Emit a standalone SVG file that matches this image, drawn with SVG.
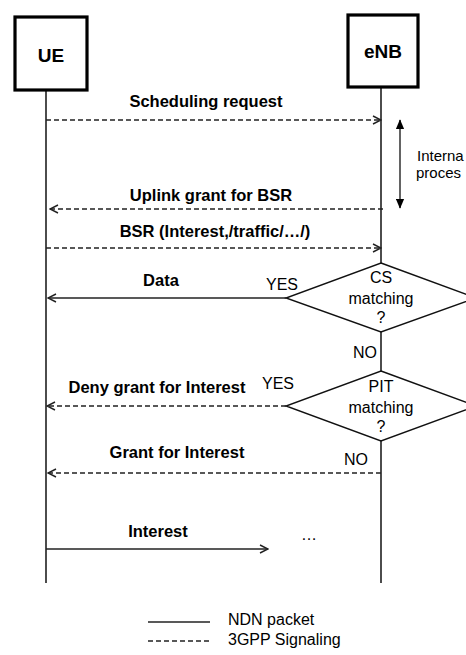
<svg xmlns="http://www.w3.org/2000/svg" width="466" height="655" viewBox="0 0 466 655">
<style>
.bg{fill:#fff}
.box{fill:#fff;stroke:#000;stroke-width:3.2}
.life{stroke:#000;stroke-width:1.4;fill:none}
.sol{stroke:#222;stroke-width:1.4;fill:none}
.dash{stroke:#222;stroke-width:1.3;fill:none;stroke-dasharray:5 3}
.dia{fill:#fff;stroke:#111;stroke-width:1.4}
.h{font-family:"Liberation Sans",Arial,sans-serif;font-weight:bold;font-size:19px;fill:#000;text-anchor:middle}
.b{font-family:"Liberation Sans",Arial,sans-serif;font-weight:bold;font-size:16.5px;fill:#000;text-anchor:middle}
.n{font-family:"Liberation Sans",Arial,sans-serif;font-size:16px;fill:#000}
.s{font-family:"Liberation Sans",Arial,sans-serif;font-size:15px;fill:#000}
.c{text-anchor:middle}
</style>
<defs>
<marker id="open" viewBox="0 0 10 10" refX="9" refY="5" markerWidth="10" markerHeight="10" markerUnits="userSpaceOnUse" orient="auto-start-reverse">
<path d="M1,1 L9,5 L1,9" fill="none" stroke="#222" stroke-width="1.4"/>
</marker>
<marker id="tri" viewBox="0 0 12 10" refX="11" refY="5" markerWidth="10" markerHeight="9" markerUnits="userSpaceOnUse" orient="auto-start-reverse">
<path d="M0,0 L12,5 L0,10 Z" fill="#000"/>
</marker>
</defs>
<rect class="bg" x="0" y="0" width="466" height="655"/>

<g id="lifelines">
<line class="life" x1="46" y1="90" x2="46" y2="583"/>
<line class="life" x1="381" y1="87" x2="381" y2="583"/>
</g>

<g id="UE">
<rect class="box" x="15" y="17" width="72" height="73"/>
<text class="h" x="51" y="62">UE</text>
</g>
<g id="eNB">
<rect class="box" x="348" y="15" width="70" height="72"/>
<text class="h" x="383" y="58">eNB</text>
</g>

<g id="connectors">
<line class="dash" x1="46" y1="120" x2="381" y2="120" marker-end="url(#open)"/>
<line class="dash" x1="383" y1="209" x2="50" y2="209" marker-end="url(#open)"/>
<line class="dash" x1="46" y1="248" x2="381" y2="248" marker-end="url(#open)"/>
<line class="sol" x1="286" y1="298" x2="48" y2="298" marker-end="url(#open)"/>
<line class="dash" x1="286" y1="406" x2="47" y2="406" marker-end="url(#open)"/>
<line class="dash" x1="381" y1="473" x2="48" y2="473" marker-end="url(#open)"/>
<line class="sol" x1="46" y1="549" x2="268" y2="549" marker-end="url(#open)"/>
<line class="sol" x1="400" y1="120" x2="400" y2="208" marker-start="url(#tri)" marker-end="url(#tri)"/>
</g>

<g id="cs-diamond">
<polygon class="dia" points="381,263 476,298 381,332 286,298"/>
<text class="n c" x="381" y="283">CS</text>
<text class="n c" x="381" y="304">matching</text>
<text class="n c" x="381" y="323">?</text>
</g>
<g id="pit-diamond">
<polygon class="dia" points="381,371 476,406 381,441 286,406"/>
<text class="n c" x="381" y="392">PIT</text>
<text class="n c" x="381" y="413">matching</text>
<text class="n c" x="381" y="432">?</text>
</g>

<g id="labels">
<text class="b" x="206" y="107">Scheduling request</text>
<text class="b" x="211" y="201">Uplink grant for BSR</text>
<text class="b" x="215" y="237">BSR (Interest,/traffic/…/)</text>
<text class="b" x="161" y="286">Data</text>
<text class="b" x="157" y="393">Deny grant for Interest</text>
<text class="b" x="177" y="458">Grant for Interest</text>
<text class="b" x="158" y="537">Interest</text>
<text class="n" x="266" y="290">YES</text>
<text class="n" x="262" y="389">YES</text>
<text class="n" x="353" y="358">NO</text>
<text class="n" x="344" y="465">NO</text>
<text class="n" x="301" y="540">…</text>
<text class="s" x="417" y="161">Interna</text>
<text class="s" x="416" y="178">proces</text>
</g>

<g id="legend">
<line class="sol" x1="148" y1="622" x2="210" y2="622"/>
<text class="n" x="228" y="625">NDN packet</text>
<line class="dash" x1="148" y1="641" x2="210" y2="641"/>
<text class="n" x="228" y="645">3GPP Signaling</text>
</g>
</svg>
